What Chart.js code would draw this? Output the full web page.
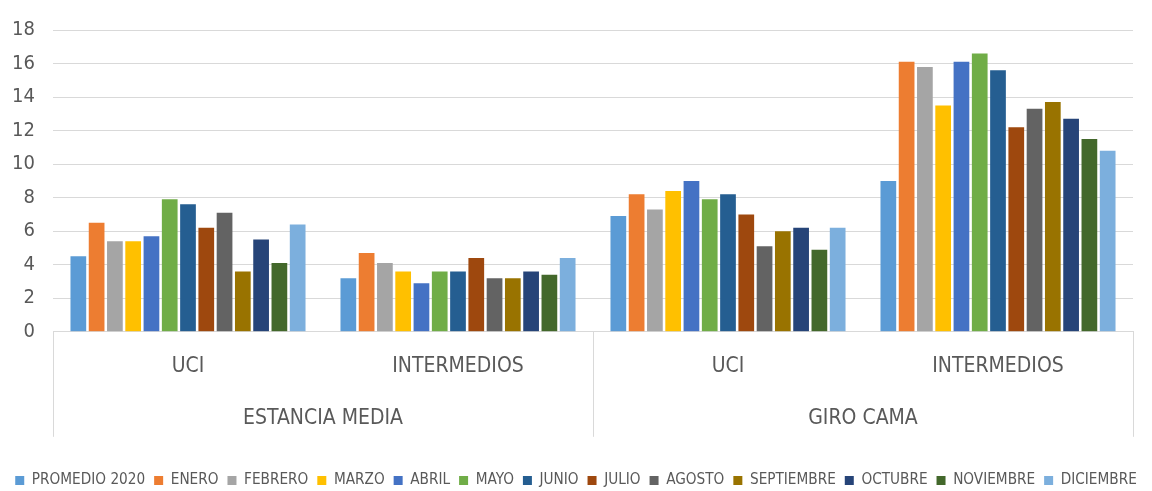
<!DOCTYPE html>
<html>
<head>
<meta charset="utf-8">
<script src="https://cdn.jsdelivr.net/npm/chart.js@4"></script>
<style>
html,body{margin:0;padding:0;background:#fff;}
#wrap{width:1152px;height:491px;position:relative;}
</style>
</head>
<body>
<div id="wrap"><canvas id="c"></canvas></div>
<script>
const categories = ['UCI', 'INTERMEDIOS', 'UCI', 'INTERMEDIOS'];
const groups = ['ESTANCIA MEDIA', 'GIRO CAMA'];
const yTicks = [0, 2, 4, 6, 8, 10, 12, 14, 16, 18];

const seriesNames = ['PROMEDIO 2020', 'ENERO', 'FEBRERO', 'MARZO', 'ABRIL', 'MAYO', 'JUNIO', 'JULIO', 'AGOSTO', 'SEPTIEMBRE', 'OCTUBRE', 'NOVIEMBRE', 'DICIEMBRE'];
const promedio2020 = [4.5, 3.2, 6.9, 9.0];
const enero      = [6.5, 4.7, 8.2, 16.1];
const febrero    = [5.4, 4.1, 7.3, 15.8];
const marzo      = [5.4, 3.6, 8.4, 13.5];
const abril      = [5.7, 2.9, 9.0, 16.1];
const mayo       = [7.9, 3.6, 7.9, 16.6];
const junio      = [7.6, 3.6, 8.2, 15.6];
const julio      = [6.2, 4.4, 7.0, 12.2];
const agosto     = [7.1, 3.2, 5.1, 13.3];
const septiembre = [3.6, 3.2, 6.0, 13.7];
const octubre    = [5.5, 3.6, 6.2, 12.7];
const noviembre  = [4.1, 3.4, 4.9, 11.5];
const diciembre  = [6.4, 4.4, 6.2, 10.8];

const seriesValues = [promedio2020, enero, febrero, marzo, abril, mayo, junio, julio, agosto, septiembre, octubre, noviembre, diciembre];
const seriesColors = ['#5B9BD5', '#ED7D31', '#A5A5A5', '#FFC000', '#4472C4', '#70AD47', '#255E91', '#9E480E', '#636363', '#997300', '#264478', '#43682B', '#7CAFDD'];

const FONT = "'Liberation Sans Narrow', 'DejaVu Sans Condensed', 'Liberation Sans', sans-serif";
const TXT = '#595959';
const GRID = '#d9d9d9';

const dividerPlugin = {
  id: 'dividers',
  afterDraw(chart) {
    const x = chart.scales.x, ca = chart.chartArea;
    const ctx = chart.ctx;
    const mid = (x.getPixelForValue(1) + x.getPixelForValue(2)) / 2;
    const xs = [ca.left, mid, ca.right];
    ctx.save();
    ctx.strokeStyle = GRID;
    ctx.lineWidth = 1;
    xs.forEach(px => {
      const p = Math.round(px) + 0.5;
      ctx.beginPath();
      ctx.moveTo(p, ca.bottom);
      ctx.lineTo(p, ca.bottom + 105);
      ctx.stroke();
    });
    ctx.restore();
  }
};

new Chart(document.getElementById('c'), {
  type: 'bar',
  data: {
    labels: categories,
    datasets: seriesNames.map((n, i) => ({
      label: n,
      data: seriesValues[i],
      backgroundColor: seriesColors[i],
      borderWidth: 0,
      categoryPercentage: 0.88,
      barPercentage: 0.86
    }))
  },
  options: {
    responsive: true,
    maintainAspectRatio: false,
    animation: false,
    layout: { padding: { left: 0, right: 0, top: 12, bottom: -7 } },
    plugins: {
      legend: {
        position: 'bottom',
        labels: {
          boxWidth: 9, boxHeight: 9, padding: 9,
          color: TXT,
          font: { family: FONT, size: 15.2 }
        }
      },
      tooltip: { enabled: false }
    },
    scales: {
      y: {
        min: 0, max: 18,
        afterBuildTicks(s) { s.ticks = yTicks.map(v => ({ value: v })); },
        afterFit(s) { s.width = 53; },
        border: { display: false },
        grid: { color: GRID, drawTicks: false },
        ticks: { color: TXT, font: { family: FONT, size: 20 }, padding: 18 }
      },
      yRight: {
        position: 'right',
        display: true,
        afterFit(s) { s.width = 19; },
        border: { display: false },
        grid: { drawOnChartArea: false, drawTicks: false, display: false },
        ticks: { display: false }
      },
      x: {
        position: 'bottom',
        afterFit(s) { s.height = 52; },
        border: { display: true, color: GRID },
        grid: { display: false, drawTicks: false },
        ticks: { color: TXT, font: { family: FONT, size: 21 }, padding: 22 }
      },
      x2: {
        type: 'category',
        labels: groups,
        position: 'bottom',
        offset: true,
        afterFit(s) { s.height = 80; },
        border: { display: false },
        grid: { display: false, drawTicks: false },
        ticks: { color: TXT, font: { family: FONT, size: 21 }, padding: 22 }
      }
    }
  },
  plugins: [dividerPlugin]
});
</script>
</body>
</html>
